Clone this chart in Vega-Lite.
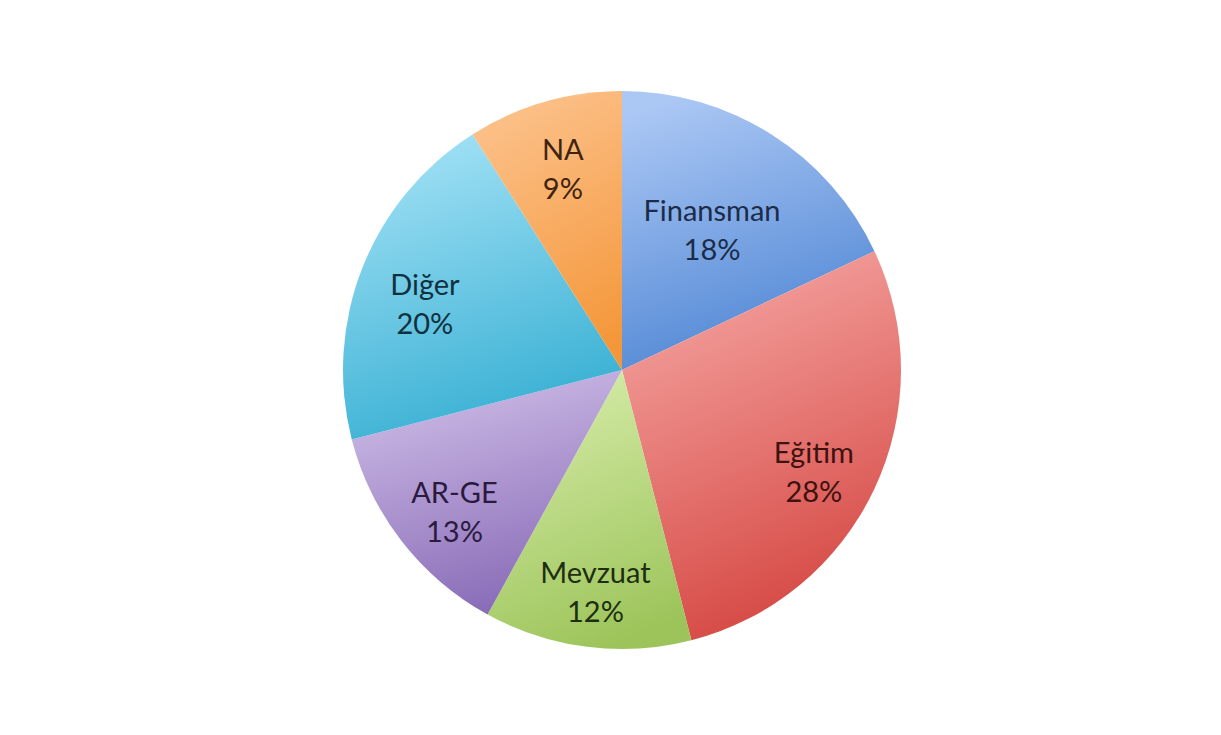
{
  "$schema": "https://vega.github.io/schema/vega-lite/v6.json",
  "width": 1221,
  "height": 735,
  "autosize": {"type": "fit", "contains": "padding"},
  "padding": {"left": 23, "right": 0, "top": 5, "bottom": 0},
  "background": "white",
  "view": {"stroke": null},
  "data": {
    "values": [
      {"category": "Finansman", "value": 18, "order": 1},
      {"category": "Eğitim", "value": 28, "order": 2},
      {"category": "Mevzuat", "value": 12, "order": 3},
      {"category": "AR-GE", "value": 13, "order": 4},
      {"category": "Diğer", "value": 20, "order": 5},
      {"category": "NA", "value": 9, "order": 6}
    ]
  },
  "transform": [
    {"stack": "value", "groupby": [], "sort": [{"field": "order", "order": "ascending"}], "as": ["start", "end"]},
    {"calculate": "(datum.start + datum.end) / 2", "as": "mid"},
    {"calculate": "[datum.category, datum.value + '%']", "as": "label"}
  ],
  "layer": [
    {
      "transform": [{"filter": "datum.category === 'Finansman'"}],
      "mark": {"type": "arc", "outerRadius": 279, "fill": {"gradient": "linear", "x1": 0.3, "y1": 0, "x2": 0.6, "y2": 1, "stops": [{"offset": 0, "color": "#abc7f4"}, {"offset": 1, "color": "#4c84d3"}]}},
      "encoding": {
        "theta": {"field": "start", "type": "quantitative", "scale": {"domain": [0, 100]}},
        "theta2": {"field": "end"}
      }
    },
    {
      "transform": [{"filter": "datum.category === 'Eğitim'"}],
      "mark": {"type": "arc", "outerRadius": 279, "fill": {"gradient": "linear", "x1": 0.3, "y1": 0, "x2": 0.6, "y2": 1, "stops": [{"offset": 0, "color": "#f5a6a3"}, {"offset": 1, "color": "#d4443f"}]}},
      "encoding": {
        "theta": {"field": "start", "type": "quantitative", "scale": {"domain": [0, 100]}},
        "theta2": {"field": "end"}
      }
    },
    {
      "transform": [{"filter": "datum.category === 'Mevzuat'"}],
      "mark": {"type": "arc", "outerRadius": 279, "fill": {"gradient": "linear", "x1": 0.3, "y1": 0, "x2": 0.6, "y2": 1, "stops": [{"offset": 0, "color": "#d6eca9"}, {"offset": 1, "color": "#9cc45a"}]}},
      "encoding": {
        "theta": {"field": "start", "type": "quantitative", "scale": {"domain": [0, 100]}},
        "theta2": {"field": "end"}
      }
    },
    {
      "transform": [{"filter": "datum.category === 'AR-GE'"}],
      "mark": {"type": "arc", "outerRadius": 279, "fill": {"gradient": "linear", "x1": 0.3, "y1": 0, "x2": 0.6, "y2": 1, "stops": [{"offset": 0, "color": "#cfbee7"}, {"offset": 1, "color": "#8769b6"}]}},
      "encoding": {
        "theta": {"field": "start", "type": "quantitative", "scale": {"domain": [0, 100]}},
        "theta2": {"field": "end"}
      }
    },
    {
      "transform": [{"filter": "datum.category === 'Diğer'"}],
      "mark": {"type": "arc", "outerRadius": 279, "fill": {"gradient": "linear", "x1": 0.3, "y1": 0, "x2": 0.6, "y2": 1, "stops": [{"offset": 0, "color": "#a2e1f5"}, {"offset": 1, "color": "#34aed2"}]}},
      "encoding": {
        "theta": {"field": "start", "type": "quantitative", "scale": {"domain": [0, 100]}},
        "theta2": {"field": "end"}
      }
    },
    {
      "transform": [{"filter": "datum.category === 'NA'"}],
      "mark": {"type": "arc", "outerRadius": 279, "fill": {"gradient": "linear", "x1": 0.3, "y1": 0, "x2": 0.6, "y2": 1, "stops": [{"offset": 0, "color": "#fcc28c"}, {"offset": 1, "color": "#f4973a"}]}},
      "encoding": {
        "theta": {"field": "start", "type": "quantitative", "scale": {"domain": [0, 100]}},
        "theta2": {"field": "end"}
      }
    },
    {
      "transform": [{"filter": "datum.category !== 'Finansman' && datum.category !== 'NA'"}],
      "mark": {"type": "text", "radius": 212, "dy": -6, "font": "Lato", "fontSize": 29, "lineHeight": 39, "baseline": "middle", "align": "center"},
      "encoding": {
        "theta": {"field": "mid", "type": "quantitative", "scale": {"domain": [0, 100]}},
        "text": {"field": "label"},
        "color": {
          "field": "category",
          "type": "nominal",
          "legend": null,
          "scale": {
            "domain": ["Finansman", "Eğitim", "Mevzuat", "AR-GE", "Diğer", "NA"],
            "range": ["#1c2c48", "#3e1210", "#1e2e10", "#2a1a3e", "#10303e", "#3e2410"]
          }
        }
      }
    },
    {
      "transform": [{"filter": "datum.category === 'NA'"}],
      "mark": {"type": "text", "radius": 212, "dy": -15, "font": "Lato", "fontSize": 29, "lineHeight": 39, "baseline": "middle", "align": "center", "color": "#3e2410"},
      "encoding": {
        "theta": {"field": "mid", "type": "quantitative", "scale": {"domain": [0, 100]}},
        "text": {"field": "label"}
      }
    },
    {
      "transform": [{"filter": "datum.category === 'Finansman'"}],
      "mark": {"type": "text", "radius": 168, "dy": -16, "font": "Lato", "fontSize": 29, "lineHeight": 39, "baseline": "middle", "align": "center", "color": "#1c2c48"},
      "encoding": {
        "theta": {"field": "mid", "type": "quantitative", "scale": {"domain": [0, 100]}},
        "text": {"field": "label"}
      }
    }
  ]
}
